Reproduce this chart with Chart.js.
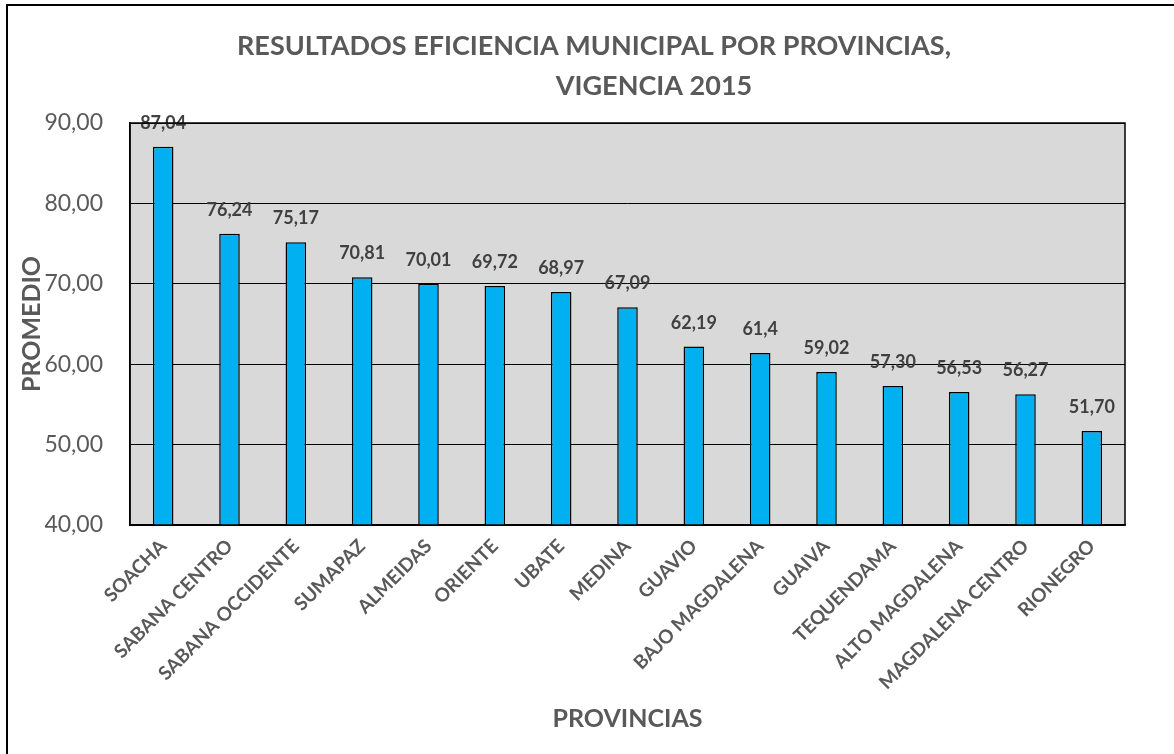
<!DOCTYPE html>
<html><head><meta charset="utf-8">
<script src="https://cdn.jsdelivr.net/npm/chart.js@4/dist/chart.umd.min.js"></script>
<style>html,body{margin:0;padding:0;background:#fff;overflow:hidden}#wrap{width:1174px;height:754px;position:relative}</style>
</head><body><div id="wrap"><canvas id="c" width="1174" height="754"></canvas></div>
<script>
const provincias = ['SOACHA','SABANA CENTRO','SABANA OCCIDENTE','SUMAPAZ','ALMEIDAS','ORIENTE','UBATE','MEDINA','GUAVIO','BAJO MAGDALENA','GUAIVA','TEQUENDAMA','ALTO MAGDALENA','MAGDALENA CENTRO','RIONEGRO'];
const promedios = [87.04, 76.24, 75.17, 70.81, 70.01, 69.72, 68.97, 67.09, 62.19, 61.4, 59.02, 57.30, 56.53, 56.27, 51.70];
const etiquetas = ['87,04','76,24','75,17','70,81','70,01','69,72','68,97','67,09','62,19','61,4','59,02','57,30','56,53','56,27','51,70'];
const yTickValues = [40, 50, 60, 70, 80, 90];
const titleLines = ['RESULTADOS EFICIENCIA MUNICIPAL POR PROVINCIAS,', 'VIGENCIA 2015'];
const yTitle = 'PROMEDIO';
const xTitle = 'PROVINCIAS';

const FONT = 'Lato, "Open Sans", sans-serif';
const GRAY = '#595959';

const framePlugin = {
  id: 'frame',
  beforeDraw(chart) {
    const {ctx, chartArea: a} = chart;
    ctx.save();
    ctx.fillStyle = '#ffffff';
    ctx.fillRect(0, 0, chart.width, chart.height);
    ctx.fillStyle = '#d9d9d9';
    ctx.fillRect(a.left, a.top, a.right - a.left, a.bottom - a.top);
    ctx.strokeStyle = '#000';
    ctx.lineWidth = 2;
    ctx.beginPath();
    ctx.moveTo(7, chart.height + 5);
    ctx.lineTo(7, 5);
    ctx.lineTo(chart.width + 5, 5);
    ctx.stroke();
    ctx.fillStyle = GRAY;
    ctx.font = 'bold 27px ' + FONT;
    ctx.textAlign = 'center';
    ctx.textBaseline = 'alphabetic';
    ctx.fillText(titleLines[0], 594, 55);
    ctx.fillText(titleLines[1], 654, 95);
    ctx.restore();
  },
  afterDraw(chart) {
    const {ctx, chartArea: a} = chart;
    ctx.save();
    ctx.strokeStyle = '#000';
    ctx.lineWidth = 1.5;
    ctx.strokeRect(a.left, a.top, a.right - a.left, a.bottom - a.top);
    ctx.restore();
  }
};

const labelPlugin = {
  id: 'barLabels',
  afterDatasetsDraw(chart) {
    const {ctx} = chart;
    const meta = chart.getDatasetMeta(0);
    ctx.save();
    ctx.fillStyle = '#404040';
    ctx.font = 'bold 18px ' + FONT;
    ctx.textAlign = 'center';
    ctx.textBaseline = 'alphabetic';
    meta.data.forEach((bar, i) => {
      ctx.fillText(etiquetas[i], bar.x, bar.y - 18);
    });
    ctx.restore();
  }
};

new Chart(document.getElementById('c'), {
  type: 'bar',
  data: {
    labels: provincias,
    datasets: [{
      data: promedios,
      backgroundColor: '#00b0f0',
      borderColor: '#000',
      borderWidth: 1.5,
      barPercentage: 0.31,
      categoryPercentage: 1.0
    }]
  },
  options: {
    responsive: false,
    devicePixelRatio: 1,
    animation: false,
    layout: { padding: { left: 0, right: 49, top: 123, bottom: 0 } },
    plugins: { legend: { display: false }, tooltip: { enabled: false }, title: { display: false } },
    scales: {
      x: {
        grid: { display: false, drawTicks: false },
        border: { display: true, color: '#000', width: 1.5 },
        ticks: {
          color: GRAY, font: { family: FONT, size: 19, weight: 'bold' },
          minRotation: 45, maxRotation: 45, padding: 10, autoSkip: false
        },
        title: { display: true, text: xTitle, color: GRAY, font: { family: FONT, size: 25, weight: 'bold' }, padding: { top: 0, bottom: 20 } },
        afterFit(scale) { scale.height = 229; }
      },
      y: {
        min: 40, max: 90,
        afterBuildTicks(scale) { scale.ticks = yTickValues.map(v => ({ value: v })); },
        grid: { color: '#000', lineWidth: 1, drawTicks: false },
        border: { display: true, color: '#000', width: 1.5 },
        ticks: {
          color: GRAY, font: { family: FONT, size: 23 }, padding: 27,
          callback: v => v.toFixed(2).replace('.', ',')
        },
        title: { display: true, text: yTitle, color: GRAY, font: { family: FONT, size: 25, weight: 'bold' }, padding: { top: 17, bottom: 0 } },
        afterFit(scale) { scale.width = 130; }
      }
    }
  },
  plugins: [framePlugin, labelPlugin]
});
</script>
</body></html>
